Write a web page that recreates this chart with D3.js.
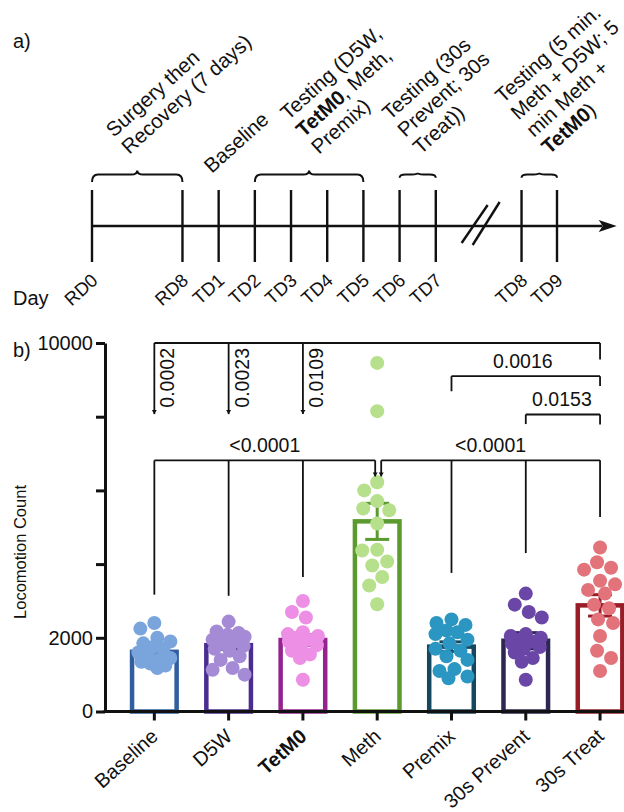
<!DOCTYPE html>
<html>
<head>
<meta charset="utf-8">
<script src="https://cdn.jsdelivr.net/npm/d3@7"></script>
<style>
  html, body { margin: 0; padding: 0; background: #fff; }
  svg { display: block; font-family: "Liberation Sans", Arial, Helvetica, sans-serif; }
</style>
</head>
<body>
<svg id="fig" width="624" height="812"></svg>
<script>
// ---------- Panel a: experimental timeline ----------
const timelineDays = ["RD0", "RD8", "TD1", "TD2", "TD3", "TD4", "TD5", "TD6", "TD7", "TD8", "TD9"];
// order of the days along the (not to scale) timeline, in slot units
const timelineSlots = [0, 2.5, 3.5, 4.5, 5.5, 6.5, 7.5, 8.5, 9.5, 11.87, 12.85];
const phaseSpans = [["RD0", "RD8"], ["TD2", "TD5"], ["TD6", "TD7"], ["TD8", "TD9"]];
// **...** marks bold text
const phaseNotes = [
  ["Surgery then", "Recovery (7 days)"],
  ["Testing (D5W,", "**TetM0**, Meth,", "Premix)"],
  ["Testing (30s", "Prevent; 30s", "Treat))"],
  ["Testing (5 min.", "Meth + D5W; 5", "min Meth +", "**TetM0**)"]
];
const singleDayNote = { day: "TD1", text: "Baseline" };

// ---------- Panel b: locomotion counts ----------
const groups = ["Baseline", "D5W", "TetM0", "Meth", "Premix", "30s Prevent", "30s Treat"];
const meanCounts = [1620, 1800, 1940, 5160, 1760, 1920, 2880];
const semCounts = [100, 110, 150, 490, 130, 220, 290];
const baselineCounts = [2400, 2250, 2000, 1900, 1850, 1750, 1700, 1600, 1550, 1450, 1400, 1350, 1300, 1250, 1180];
const d5wCounts = [2440, 2170, 2130, 2080, 2030, 1950, 1900, 1850, 1780, 1700, 1650, 1500, 1400, 1180, 1130, 1000];
const tetm0Counts = [3000, 2700, 2550, 2150, 2100, 2050, 2000, 1950, 1900, 1800, 1750, 1650, 1550, 1450, 860];
const methCounts = [9460, 8150, 6220, 6000, 5710, 5510, 5460, 5100, 4390, 4370, 4070, 3960, 3650, 3420, 2910];
const premixCounts = [2500, 2400, 2350, 2200, 2150, 2100, 1950, 1850, 1700, 1650, 1500, 1400, 1150, 1100, 950, 900];
const preventCounts = [3200, 2900, 2700, 2550, 2100, 2050, 2000, 1950, 1900, 1850, 1750, 1700, 1600, 1450, 1350, 860];
const treatCounts = [4450, 4050, 3900, 3850, 3550, 3450, 3300, 3200, 2900, 2800, 2500, 2400, 2050, 1650, 1450, 1100];
const groupCounts = [baselineCounts, d5wCounts, tetm0Counts, methCounts, premixCounts, preventCounts, treatCounts];
const yTickValues = [0, 2000, 4000, 6000, 8000, 10000];
const yTickLabels = ["0", "2000", "", "", "", "10000"];

// multiple comparisons
const treatVsEarlyP = ["0.0002", "0.0023", "0.0109"];          // 30s Treat vs Baseline, D5W, TetM0
const treatPairs = [
  { from: "Premix", to: "30s Treat", p: "0.0016" },
  { from: "30s Prevent", to: "30s Treat", p: "0.0153" }
];
const methVsAllP = "<0.0001";

// ---------- styles ----------
const barColors = ["#2f5f9e", "#4b2d91", "#95238f", "#5a9a2e", "#17475f", "#2e2752", "#981d27"];
const dotColors = ["#79a5dc", "#a58bd6", "#ee8fe6", "#b6e08b", "#2b96c1", "#6a47a7", "#e3737a"];
const INK = "#111";
const TILT = -42;   // angle of the slanted labels

const svg = d3.select("#fig");

function addRich(textSel, line) {
  line.split("**").forEach((part, i) => {
    if (!part) return;
    textSel.append("tspan").attr("font-weight", i % 2 ? "bold" : null).text(part);
  });
}

// ================= Panel a =================
const gA = svg.append("g");
gA.append("text").attr("x", 13).attr("y", 48).attr("font-size", 20).attr("fill", INK).text("a)");

const xT = d3.scaleLinear().domain([0, 12.85]).range([92, 557]);
const dayX = d => xT(timelineSlots[timelineDays.indexOf(d)]);
const lineY = 226, tickTop = 190, tickBottom = 262;

gA.append("line")
  .attr("x1", xT(0)).attr("x2", xT(14.1)).attr("y1", lineY).attr("y2", lineY)
  .attr("stroke", INK).attr("stroke-width", 2.4);
const tip = xT(14.5);
gA.append("path")
  .attr("d", `M${tip},${lineY} L${tip - 18},${lineY - 6} L${tip - 14},${lineY} L${tip - 18},${lineY + 6} Z`)
  .attr("fill", INK);

gA.selectAll("line.day").data(timelineDays).join("line")
  .attr("class", "day")
  .attr("x1", d => dayX(d)).attr("x2", d => dayX(d))
  .attr("y1", tickTop).attr("y2", tickBottom)
  .attr("stroke", INK).attr("stroke-width", 2.4);

// break marks between TD7 and TD8
const brk = (dayX("TD7") + dayX("TD8")) / 2;
[[-17, 243, 9, 205], [-6, 245, 21, 202]].forEach(([a, b, c, e]) => {
  gA.append("line").attr("x1", brk + a).attr("y1", b).attr("x2", brk + c).attr("y2", e)
    .attr("stroke", INK).attr("stroke-width", 2.4);
});

// day labels
gA.selectAll("text.dayLabel").data(timelineDays).join("text")
  .attr("class", "dayLabel")
  .attr("transform", d => `translate(${dayX(d) + 7},282) rotate(${TILT})`)
  .attr("text-anchor", "end").attr("font-size", 18.5).attr("fill", INK)
  .text(d => d);
gA.append("text").attr("x", 13).attr("y", 305).attr("font-size", 20).attr("fill", INK).text("Day");

// curly braces over each phase
function bracePath(x0, x1) {
  const yF = 174.5;
  const depth = Math.min(7.5, (x1 - x0) * 0.09);
  const peak = depth * 0.55;
  const r = Math.min(6, (x1 - x0) / 6);
  const cx = (x0 + x1) / 2;
  return `M${x0},${yF + depth} Q${x0},${yF} ${x0 + r},${yF} L${cx - r},${yF} Q${cx},${yF} ${cx},${yF - peak}` +
         ` Q${cx},${yF} ${cx + r},${yF} L${x1 - r},${yF} Q${x1},${yF} ${x1},${yF + depth}`;
}
const noteNudge = [-8, 10, 3, 10];
const noteLead = 23, noteFont = 20.5;
const rad = TILT * Math.PI / 180;
const nextLine = [-Math.sin(rad), Math.cos(rad)];   // screen step from one note line to the next
phaseSpans.forEach(([a, b], i) => {
  const x0 = dayX(a), x1 = dayX(b);
  gA.append("path").attr("d", bracePath(x0, x1))
    .attr("fill", "none").attr("stroke", INK).attr("stroke-width", 2);
  const lines = phaseNotes[i];
  const lastX = (x0 + x1) / 2 + noteNudge[i], lastY = 155;
  const k = (lines.length - 1) * noteLead;
  const g = gA.append("g")
    .attr("transform", `translate(${lastX - k * nextLine[0]},${lastY - k * nextLine[1]}) rotate(${TILT})`);
  lines.forEach((ln, j) => {
    const t = g.append("text").attr("x", 0).attr("y", j * noteLead)
      .attr("font-size", noteFont).attr("fill", INK);
    addRich(t, ln);
  });
});
gA.append("text")
  .attr("transform", `translate(${dayX(singleDayNote.day) - 7},174) rotate(${TILT})`)
  .attr("font-size", noteFont).attr("fill", INK).text(singleDayNote.text);

// ================= Panel b =================
const gB = svg.append("g");
gB.append("text").attr("x", 13).attr("y", 357).attr("font-size", 20).attr("fill", INK).text("b)");

const axisX = 105;
const y = d3.scaleLinear().domain([0, 10000]).range([711.5, 343]);
const x = d3.scaleBand().domain(groups).range([117.2, 637.2]).padding(0);
const cx = g => x(g) + x.bandwidth() / 2;
const barW = x.step() * 0.6;

// bars
gB.selectAll("rect.bar").data(groups).join("rect")
  .attr("class", "bar")
  .attr("x", g => cx(g) - barW / 2)
  .attr("y", (g, i) => y(meanCounts[i]))
  .attr("width", barW)
  .attr("height", (g, i) => y(0) - y(meanCounts[i]))
  .attr("fill", "none")
  .attr("stroke", (g, i) => barColors[i])
  .attr("stroke-width", 4.5);

// SEM error bars
groups.forEach((g, i) => {
  const c = cx(g), lo = y(meanCounts[i] - semCounts[i]), hi = y(meanCounts[i] + semCounts[i]);
  const eg = gB.append("g").attr("stroke", barColors[i]).attr("stroke-width", 3);
  eg.append("line").attr("x1", c).attr("x2", c).attr("y1", lo).attr("y2", hi);
  eg.append("line").attr("x1", c - 12).attr("x2", c + 12).attr("y1", lo).attr("y2", lo);
  eg.append("line").attr("x1", c - 12).attr("x2", c + 12).attr("y1", hi).attr("y2", hi);
});

// individual animals: beeswarm kept within a fixed half-width, overlapping when crowded
const dotR = 7;
function swarm(values, minDist, halfWidth) {
  const pts = values.map(v => ({ v, py: y(v) })).sort((a, b) => a.py - b.py);
  const placed = [];
  const cands = [0];
  for (let k = 1; k <= halfWidth; k++) cands.push(-k, k);
  pts.forEach(p => {
    let best = null, bestGap = -1;
    for (const c of cands) {
      const gap = placed.length
        ? d3.min(placed, q => Math.hypot(q.dx - c, q.py - p.py))
        : Infinity;
      if (gap >= minDist) { best = c; bestGap = gap; break; }
      if (gap > bestGap) { best = c; bestGap = gap; }
    }
    p.dx = best;
    placed.push(p);
  });
  return placed;
}
groups.forEach((g, i) => {
  gB.append("g").selectAll("circle").data(swarm(groupCounts[i], 15, 16)).join("circle")
    .attr("cx", d => cx(g) + d.dx)
    .attr("cy", d => d.py)
    .attr("r", dotR)
    .attr("fill", dotColors[i]);
});

// y axis
const yAxis = gB.append("g").attr("transform", `translate(${axisX},0)`)
  .call(d3.axisLeft(y).tickValues(yTickValues).tickSize(9).tickSizeOuter(0).tickPadding(3)
    .tickFormat((d, i) => yTickLabels[i]));
yAxis.attr("font-family", null).attr("font-size", null);
yAxis.select(".domain").attr("stroke", INK).attr("stroke-width", 3);
yAxis.selectAll(".tick line").attr("stroke", INK).attr("stroke-width", 3);
yAxis.selectAll(".tick text").attr("fill", INK).attr("font-size", 20);

gB.append("text")
  .attr("transform", `translate(26,552) rotate(-90)`)
  .attr("text-anchor", "middle").attr("font-size", 16.5).attr("fill", INK)
  .text("Locomotion Count");

// x axis
const xAxis = gB.append("g").attr("transform", `translate(0,${y(0)})`)
  .call(d3.axisBottom(x).tickSize(9).tickSizeOuter(0).tickFormat(""));
xAxis.select(".domain").remove();
xAxis.selectAll(".tick line").attr("stroke", INK).attr("stroke-width", 3);
gB.append("line").attr("x1", axisX - 1.5).attr("x2", 624).attr("y1", y(0)).attr("y2", y(0))
  .attr("stroke", INK).attr("stroke-width", 3);
gB.selectAll("text.cat").data(groups).join("text")
  .attr("class", "cat")
  .attr("transform", g => `translate(${cx(g) + 5},738) rotate(${TILT})`)
  .attr("text-anchor", "end").attr("font-size", 20).attr("fill", INK)
  .attr("font-weight", g => g === "TetM0" ? "bold" : null)
  .text(g => g);

// ---------- significance annotations ----------
const gS = gB.append("g").attr("stroke", INK).attr("stroke-width", 1.8).attr("fill", "none");
const gT = gB.append("g").attr("fill", INK).attr("font-size", 19.5);
function seg(x1, y1, x2, y2) {
  gS.append("line").attr("x1", x1).attr("y1", y1).attr("x2", x2).attr("y2", y2);
}
function arrowHead(xp, yp) {
  gB.append("path").attr("d", `M${xp - 2.5},${yp - 4} L${xp + 2.5},${yp - 4} L${xp},${yp} Z`).attr("fill", INK);
}

// 30s Treat vs Baseline / D5W / TetM0
const treatX = cx("30s Treat");
seg(cx("Baseline"), y(10000), treatX, y(10000));
seg(treatX, y(10000), treatX, y(9550));
["Baseline", "D5W", "TetM0"].forEach((g, i) => {
  seg(cx(g), y(10000), cx(g), y(8070));
  arrowHead(cx(g), y(8070));
  gT.append("text")
    .attr("transform", `translate(${cx(g) + 20},${y(10000) + 5}) rotate(-90)`)
    .attr("text-anchor", "end")
    .text(treatVsEarlyP[i]);
});

// Premix vs 30s Treat, 30s Prevent vs 30s Treat
[{ top: 9100, l: 8690, r: 8830 }, { top: 8060, l: 7800, r: 7790 }].forEach((lv, i) => {
  const a = cx(treatPairs[i].from), b = cx(treatPairs[i].to);
  seg(a, y(lv.top), b, y(lv.top));
  seg(a, y(lv.top), a, y(lv.l));
  seg(b, y(lv.top), b, y(lv.r));
  gT.append("text").attr("x", (a + b) / 2 + (i ? -1 : -3)).attr("y", y(lv.top) - 8)
    .attr("text-anchor", "middle").text(treatPairs[i].p);
});

// Meth vs every other group
const methX = cx("Meth");
const methLevel = 6815, methArrowTo = 6380;
const stemEnds = [3170, 3140, 3650, null, 3760, 4300, 5280];
const leftX = methX - 2, rightX = methX + 4;
seg(cx("Baseline"), y(methLevel), leftX, y(methLevel));
seg(rightX, y(methLevel), treatX, y(methLevel));
[leftX, rightX].forEach(xp => {
  seg(xp, y(methLevel), xp, y(methArrowTo));
  arrowHead(xp, y(methArrowTo));
});
groups.forEach((g, i) => {
  if (stemEnds[i] === null) return;
  seg(cx(g), y(methLevel), cx(g), y(stemEnds[i]));
});
gT.append("text").attr("x", (cx("Baseline") + leftX) / 2).attr("y", y(methLevel) - 8)
  .attr("text-anchor", "middle").text(methVsAllP);
gT.append("text").attr("x", (rightX + treatX) / 2).attr("y", y(methLevel) - 8)
  .attr("text-anchor", "middle").text(methVsAllP);
</script>
</body>
</html>
